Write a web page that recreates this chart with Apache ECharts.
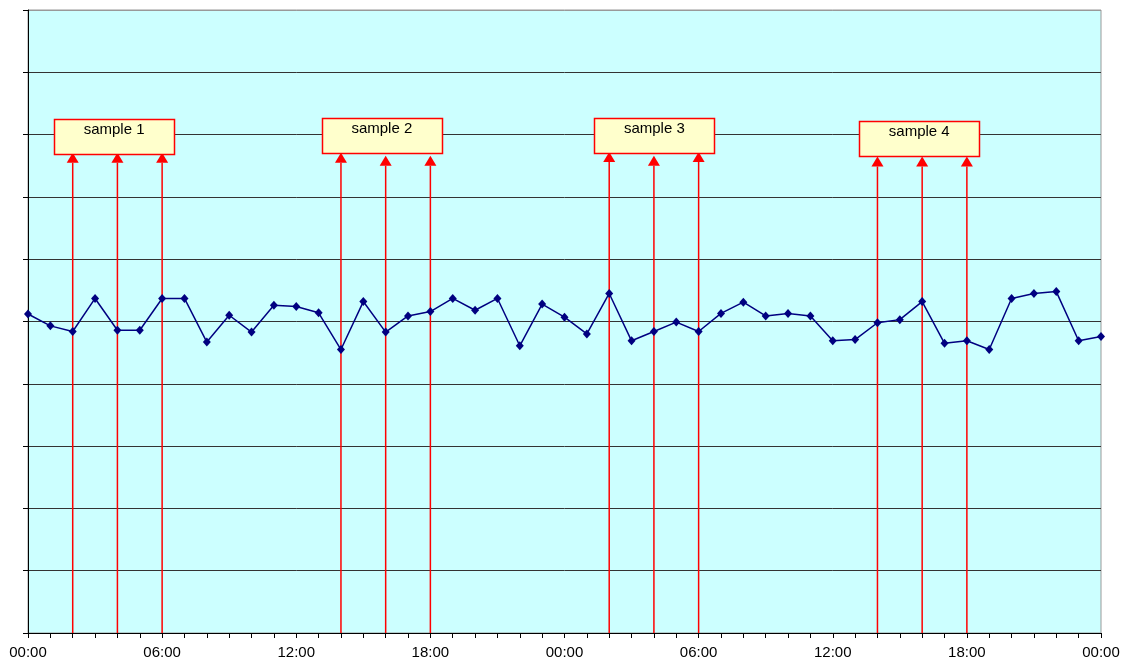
<!DOCTYPE html>
<html>
<head>
<meta charset="utf-8">
<script src="https://cdn.jsdelivr.net/npm/echarts@6/dist/echarts.min.js"></script>
<style>
html,body{margin:0;padding:0;background:#fff;}
#chart{width:1124px;height:666px;}
</style>
</head>
<body>
<div id="chart"></div>
<script>
// ---- data ----
const hours = [0,1,2,3,4,5,6,7,8,9,10,11,12,13,14,15,16,17,18,19,20,21,22,23,24,25,26,27,28,29,30,31,32,33,34,35,36,37,38,39,40,41,42,43,44,45,46,47,48];
const values = [5.12,4.93,4.84,5.37,4.86,4.86,5.37,5.37,4.67,5.10,
                4.83,5.26,5.24,5.14,4.55,5.32,4.83,5.09,5.16,5.37,
                5.18,5.37,4.61,5.28,5.07,4.80,5.45,4.69,4.84,4.99,
                4.84,5.13,5.31,5.09,5.13,5.09,4.69,4.71,4.98,5.03,
                5.32,4.65,4.69,4.55,5.37,5.45,5.48,4.69,4.76];
const xTickLabels = ['00:00','06:00','12:00','18:00','00:00','06:00','12:00','18:00','00:00'];
const arrowHours = [2,4,6,14,16,18,26,28,30,38,40,42];
const arrowTips  = [7.71,7.71,7.71,7.71,7.66,7.66,7.72,7.66,7.72,7.65,7.65,7.65];
const sampleLabels = ['sample 1','sample 2','sample 3','sample 4'];
const sampleCenters = [3.85,15.83,28.02,39.87];
const sampleTops = [8.25,8.27,8.27,8.22];

// ---- chart ----
const FONT = '"Liberation Sans", Arial, sans-serif';
const chart = echarts.init(document.getElementById('chart'));
const gridColors = ['#333','#333','#333','#333','#333','#333','#333','#333','#333','#333','#999'];

const option = {
  animation: false,
  backgroundColor: '#ffffff',
  grid: {
    left: 28, right: 23, top: 10, bottom: 33,
    show: true, backgroundColor: '#CCFFFF', borderColor: '#999', borderWidth: 1,
    outerBoundsMode: 'none'
  },
  xAxis: {
    type: 'value', min: 0, max: 48, interval: 1,
    axisLine: { show: true, lineStyle: { color: '#000', width: 1 } },
    axisTick: { show: true, length: 5, lineStyle: { color: '#000' } },
    splitLine: { show: false },
    axisLabel: {
      show: true, margin: 12, fontSize: 15, fontFamily: FONT, color: '#000',
      formatter: function (v) { return v % 6 === 0 ? xTickLabels[v / 6] : ''; }
    }
  },
  yAxis: {
    type: 'value', min: 0, max: 10, interval: 1,
    axisLine: { show: true, lineStyle: { color: '#000', width: 1 } },
    axisTick: { show: true, length: 5, lineStyle: { color: '#000' } },
    axisLabel: { show: false },
    splitLine: { show: true, lineStyle: { color: gridColors, width: 1 } }
  },
  series: [
    {
      type: 'custom',
      z: 2,
      data: arrowHours.map((h, i) => [h, arrowTips[i]]),
      renderItem: function (params, api) {
        const base = api.coord([api.value(0), 0]);
        const tip = api.coord([api.value(0), api.value(1)]);
        const ah = 10, aw = 12;
        return {
          type: 'group',
          children: [
            { type: 'line', shape: { x1: base[0], y1: base[1], x2: tip[0], y2: tip[1] + ah },
              style: { stroke: '#FF0000', lineWidth: 1.5 } },
            { type: 'polygon', shape: { points: [[tip[0], tip[1]], [tip[0] - aw / 2, tip[1] + ah], [tip[0] + aw / 2, tip[1] + ah]] },
              style: { fill: '#FF0000' } }
          ]
        };
      }
    },
    {
      type: 'custom',
      z: 3,
      data: sampleCenters.map((c, i) => [c, sampleTops[i]]),
      renderItem: function (params, api) {
        const p = api.coord([api.value(0), api.value(1)]);
        const w = 120, h = 35;
        return {
          type: 'group',
          children: [
            { type: 'rect', shape: { x: Math.round(p[0] - w / 2) + 0.5, y: Math.round(p[1]) + 0.5, width: w, height: h },
              style: { fill: '#FFFFCC', stroke: '#FF0000', lineWidth: 1.5 } },
            { type: 'text', style: { text: sampleLabels[params.dataIndex], x: p[0], y: p[1] + 11,
              align: 'center', verticalAlign: 'middle', font: '15px ' + FONT, fill: '#000' } }
          ]
        };
      }
    },
    {
      type: 'line',
      z: 4,
      data: hours.map((h, i) => [h, values[i]]),
      symbol: 'diamond',
      symbolSize: [8, 9],
      showSymbol: true,
      lineStyle: { color: '#000080', width: 1.5 },
      itemStyle: { color: '#000080' }
    }
  ]
};
chart.setOption(option);
</script>
</body>
</html>
